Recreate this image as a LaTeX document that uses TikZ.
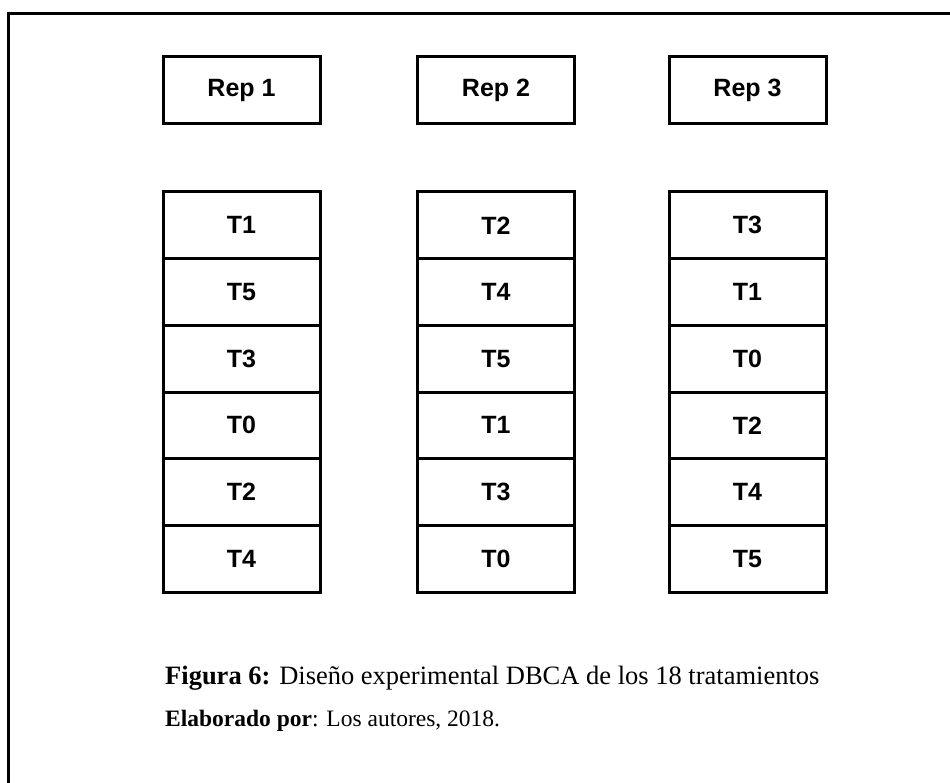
\documentclass[tikz,border=0pt]{standalone}
\usepackage{fontspec}
\setmainfont{Liberation Serif}
\newfontfamily\boxfont{Liberation Sans}
\begin{document}
\begin{tikzpicture}[x=1pt,y=-1pt,
  cell/.style={draw=black,line width=3pt,minimum width=157pt,minimum height=66.7pt,
    inner sep=0pt,outer sep=0pt,font=\boxfont\bfseries\fontsize{25}{30}\selectfont},
  caption/.style={anchor=base west,inner sep=0pt}]
\useasboundingbox (0,0) rectangle (950,783);
% open frame: top and left edges only
\coordinate (ftl) at (8.5,13.5);
\coordinate (ftr) at (951,13.5);
\coordinate (fbl) at (8.5,784);
\draw[line width=2.5pt] (fbl) -- (ftl) -- (ftr);
% block headers
\node[cell] (rep1) at (241.5,90) {Rep 1};
\node[cell] (rep2) at (496,90) {Rep 2};
\node[cell] (rep3) at (747.5,90) {Rep 3};
% treatment stacks
\foreach \lab [count=\i] in {T1,T5,T3,T0,T2,T4}
  \node[cell] (a\i) at (241.5,158.67+66.67*\i) {\lab};
\foreach \lab [count=\i] in {T2,T4,T5,T1,T3,T0}
  \node[cell] (b\i) at (496,158.67+66.67*\i) {\lab};
\foreach \lab [count=\i] in {T3,T1,T0,T2,T4,T5}
  \node[cell] (c\i) at (747.5,158.67+66.67*\i) {\lab};
% caption
\node[caption,font=\fontsize{26.5}{32}\selectfont] (cap1) at (165,684)
  {\textbf{Figura 6:} Diseño experimental DBCA de los 18 tratamientos};
\node[caption,font=\fontsize{23.5}{28}\selectfont] (cap2) at (165,726)
  {\textbf{Elaborado por}: Los autores, 2018.};
\end{tikzpicture}
\end{document}
